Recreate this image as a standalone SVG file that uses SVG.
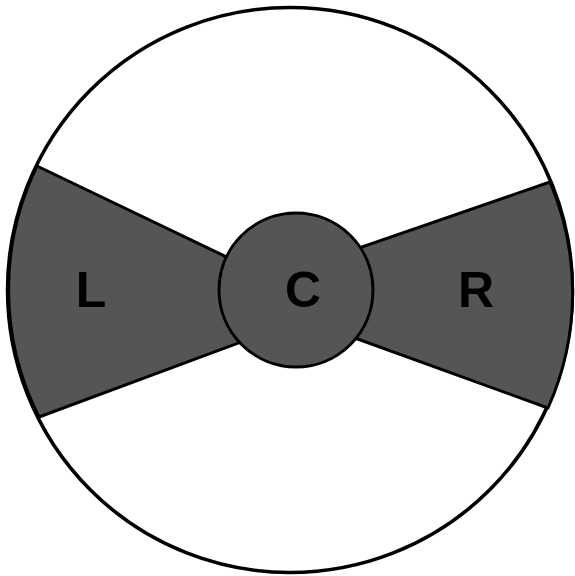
<svg xmlns="http://www.w3.org/2000/svg" width="575" height="576" viewBox="0 0 575 576">
<style>
.shape{fill:#555555;stroke:#000;stroke-width:3;stroke-linejoin:round}
.lbl{font-family:"Liberation Sans",Arial,sans-serif;font-weight:bold;font-size:50px;fill:#000;text-anchor:middle}
</style>
<rect width="575" height="576" fill="#fff"/>
<g id="outer"><circle cx="290" cy="290" r="282.5" fill="#fff" stroke="#000" stroke-width="3.5"/></g>
<g id="L">
<path class="shape" d="M37,166 A282.5,282.5 0 0 0 39,417 L260,335 L260,273 Z"/>
<text class="lbl" x="91" y="307">L</text>
</g>
<g id="R">
<path class="shape" d="M550,182 A282.5,282.5 0 0 1 548,408 L330,329 L330,258 Z"/>
<text class="lbl" x="476" y="307">R</text>
</g>
<g id="C">
<circle class="shape" cx="296" cy="290" r="77"/>
<text class="lbl" x="303" y="307">C</text>
</g>
</svg>
